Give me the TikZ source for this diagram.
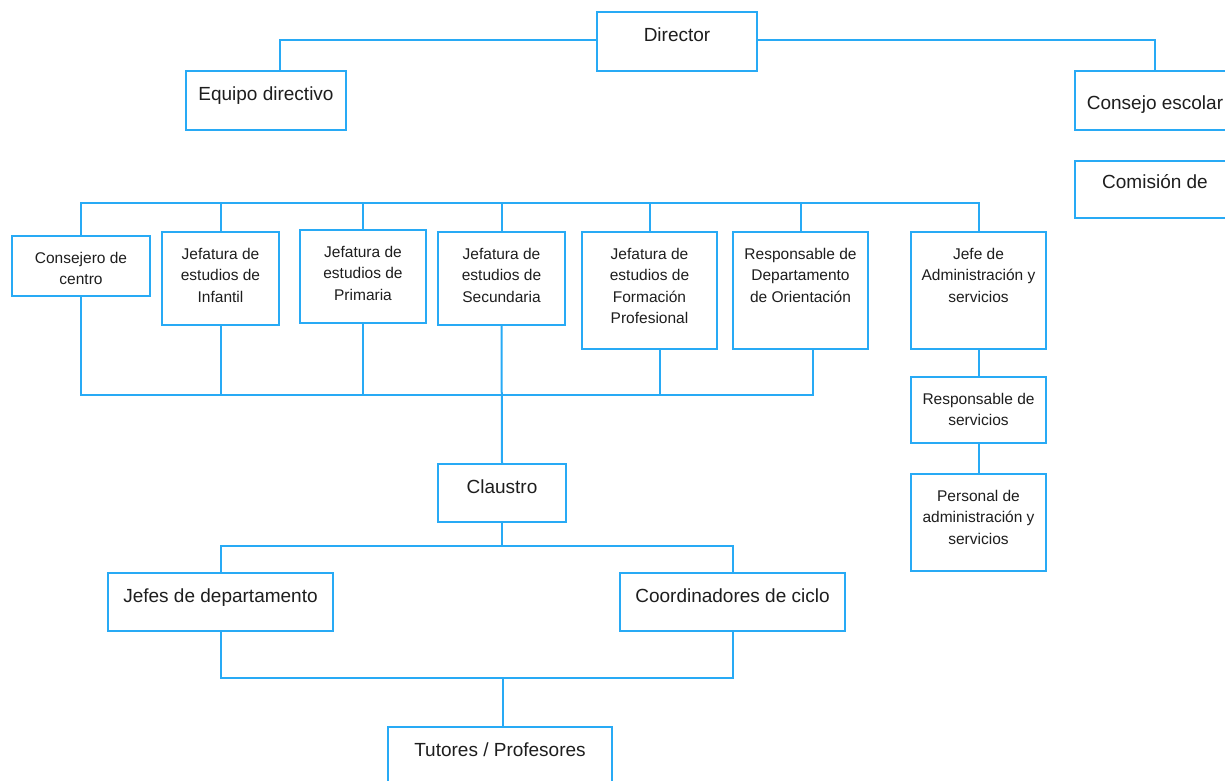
\documentclass[tikz,border=0pt]{standalone}
\usepackage{fontspec}
\setmainfont{Liberation Sans}
\usetikzlibrary{fit}
\definecolor{lineblue}{RGB}{40,170,245}
\definecolor{txtcol}{RGB}{30,30,30}
\tikzset{
  box/.style={draw=lineblue, line width=2pt, rectangle, inner sep=0pt, outer sep=0pt, fill=white},
  conn/.style={draw=lineblue, line width=2pt},
  big/.style={font=\fontsize{19}{22}\selectfont, inner sep=0pt, align=center, anchor=north, text=txtcol},
  small/.style={font=\fontsize{15.5}{21.5}\selectfont, inner sep=0pt, align=center, anchor=north, text=txtcol},
}
\newcommand\orgbox[8]{% name, x1,y1,x2,y2, style, yshift, text
  \node[box, fit={(#2,#3) (#4,#5)}] (#1) {};
  \node[#6] (#1-t) at ([yshift=-#7pt]#1.north) {#8};
}
\begin{document}
\begin{tikzpicture}[x=1pt,y=-1pt]
\useasboundingbox (0,0) rectangle (1225,781);
\clip (0,0) rectangle (1225,781);
% top level
\orgbox{dir}{597}{12}{757}{71}{big}{15.5}{Director}
\orgbox{eq}{186}{71}{346}{130}{big}{15.5}{Equipo directivo}
\orgbox{ce}{1075}{71}{1235}{130}{big}{25}{Consejo escolar}
\orgbox{com}{1075}{161}{1235}{218}{big}{13.5}{Comisión de}
% second level
\orgbox{cons}{12}{236}{150}{296}{small}{16}{Consejero de\\centro}
\orgbox{inf}{162}{232}{279}{325}{small}{16}{Jefatura de\\estudios de\\Infantil}
\orgbox{pri}{300}{230}{426}{323}{small}{16}{Jefatura de\\estudios de\\Primaria}
\orgbox{sec}{438}{232}{565}{325}{small}{16}{Jefatura de\\estudios de\\Secundaria}
\orgbox{fp}{582}{232}{717}{349}{small}{16}{Jefatura de\\estudios de\\Formación\\Profesional}
\orgbox{rdo}{733}{232}{868}{349}{small}{16}{Responsable de\\Departamento\\de Orientación}
\orgbox{jadm}{911}{232}{1046}{349}{small}{16}{Jefe de\\Administración y\\servicios}
\orgbox{rs}{911}{377}{1046}{443}{small}{16}{Responsable de\\servicios}
\orgbox{pas}{911}{474}{1046}{571}{small}{16}{Personal de\\administración y\\servicios}
% lower part
\orgbox{cla}{438}{464}{566}{522}{big}{15.5}{Claustro}
\orgbox{jd}{108}{573}{333}{631}{big}{15.5}{Jefes de departamento}
\orgbox{cc}{620}{573}{845}{631}{big}{15.5}{Coordinadores de ciclo}
\orgbox{tut}{388}{727}{612}{800}{big}{15.5}{Tutores / Profesores}
% bus coordinates
\coordinate (busA) at (0,203);
\coordinate (busB) at (0,395);
\coordinate (busC) at (0,546);
\coordinate (busD) at (0,678);
\coordinate (eqT) at ([xshift=14pt]eq.north);
\coordinate (fpB) at ([xshift=10pt]fp.south);
\coordinate (rdoB) at ([xshift=12pt]rdo.south);
\coordinate (tutT) at ([xshift=3pt]tut.north);
% connectors
\draw[conn] ([yshift=1pt]dir.west) -| (eqT);
\draw[conn] ([yshift=1pt]dir.east) -| (ce.north);
\draw[conn] (cons.north) -- (cons.north|-busA) -- (jadm.north|-busA) -- (jadm.north);
\draw[conn] (inf.north) -- (inf.north|-busA);
\draw[conn] (pri.north) -- (pri.north|-busA);
\draw[conn] (sec.north) -- (sec.north|-busA);
\draw[conn] (fp.north) -- (fp.north|-busA);
\draw[conn] (rdo.north) -- (rdo.north|-busA);
\draw[conn] (cons.south) -- (cons.south|-busB) -- (rdoB|-busB) -- (rdoB);
\draw[conn] (inf.south) -- (inf.south|-busB);
\draw[conn] (pri.south) -- (pri.south|-busB);
\draw[conn] (fpB) -- (fpB|-busB);
\draw[conn] (sec.south) -- (cla.north);
\draw[conn] (jadm.south) -- (rs.north);
\draw[conn] (rs.south) -- (pas.north);
\draw[conn] (cla.south) -- (cla.south|-busC);
\draw[conn] (jd.north) -- (jd.north|-busC) -- (cc.north|-busC) -- (cc.north);
\draw[conn] (jd.south) -- (jd.south|-busD) -- (cc.south|-busD) -- (cc.south);
\draw[conn] (tutT) -- (tutT|-busD);
\end{tikzpicture}
\end{document}
